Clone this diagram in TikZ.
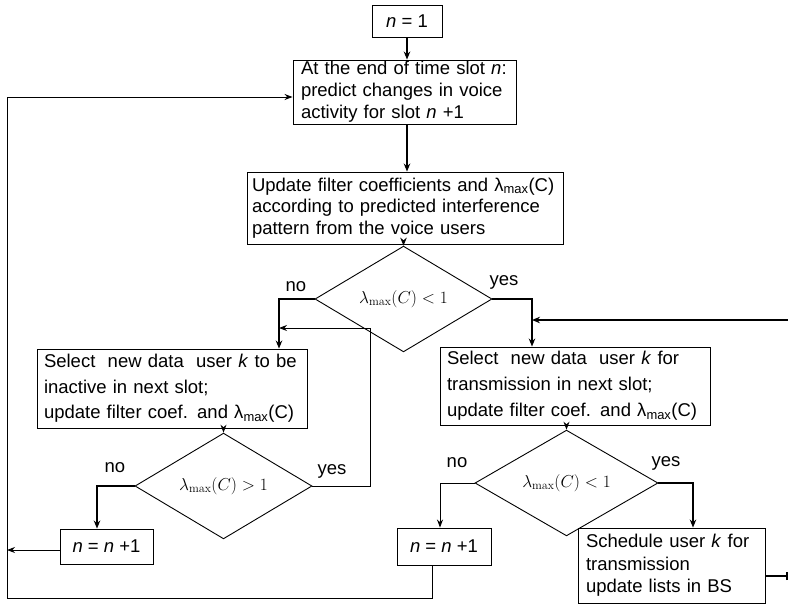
\documentclass[tikz,border=0pt]{standalone}
\usepackage[no-math]{fontspec}
\setmainfont{Liberation Sans}
\usetikzlibrary{arrows.meta,shapes.geometric}
\begin{document}
\begin{tikzpicture}[x=1pt,y=-1pt,
  every node/.style={font=\fontsize{18.5}{22}\selectfont},
  box/.style={draw,line width=0.9pt,inner ysep=0pt,align=left},
  cbox/.style={draw,line width=0.9pt,inner sep=0pt,align=center},
  dia/.style={draw,diamond,line width=0.9pt,inner sep=0pt},
  lbl/.style={inner sep=0pt},
  thinarr/.style={line width=0.9pt,-{Stealth[length=8pt,width=6pt]}},
  thickarr/.style={line width=1.8pt,-{Stealth[length=8pt,width=6.5pt]}},
  thinln/.style={line width=0.9pt},
  thickln/.style={line width=1.8pt}]
\useasboundingbox (0,0) rectangle (788,606);
\node[cbox,minimum width=70pt,minimum height=32pt] (n1) at (407,21) {\textit{n} = 1};
\node[box,minimum height=64pt,text width=207pt,inner xsep=8pt] (b2) at (404.5,92)
  {At the end of time slot \textit{n}:\\predict changes in voice\\activity for slot \textit{n} +1};
\node[box,minimum height=72pt,text width=306pt,inner xsep=5pt,font=\fontsize{18.5}{21.5}\selectfont] (b3) at (405,208)
  {Update filter coefficients and λ\textsubscript{max}(C)\\according to predicted interference\\pattern from the voice users};
\node[dia,minimum width=177pt,minimum height=64pt] (d1) at (403.5,299) {$\lambda_{\max}(C)<1$};
\node[box,minimum height=79pt,text width=256pt,inner xsep=7pt,font=\fontsize{18.5}{25.5}\selectfont] (b4) at (172,388.5)
  {Select\ \ new data\ \ user \textit{k} to be\\inactive in next slot;\\update filter coef. and λ\textsubscript{max}(C)};
\node[box,minimum height=78pt,text width=256pt,inner xsep=7pt,font=\fontsize{18.5}{26}\selectfont] (b7) at (575,386)
  {Select\ \ new data\ \ user \textit{k} for\\transmission in next slot;\\update filter coef. and λ\textsubscript{max}(C)};
\node[dia,minimum width=177pt,minimum height=56pt] (d2) at (223.5,486) {$\lambda_{\max}(C)>1$};
\node[dia,minimum width=183pt,minimum height=58pt] (d3) at (566.5,483) {$\lambda_{\max}(C)<1$};
\node[cbox,minimum width=93pt,minimum height=35pt] (b5) at (106.5,546.5) {\textit{n} = \textit{n} +1};
\node[cbox,minimum width=94pt,minimum height=37pt] (b6) at (444,546.5) {\textit{n} = \textit{n} +1};
\node[box,minimum height=75pt,text width=171pt,inner xsep=8pt,font=\fontsize{18.5}{22.5}\selectfont] (b8) at (671.5,565.5)
  {Schedule user \textit{k} for\\transmission\\update lists in BS};
% labels
\node[lbl] (l1) at (296,287) {no};
\node[lbl] (l2) at (504,282) {yes};
\node[lbl] (l3) at (115,468) {no};
\node[lbl] (l4) at (332,471) {yes};
\node[lbl] (l5) at (457,463) {no};
\node[lbl] (l6) at (666,463) {yes};
% coordinates
\coordinate (c1) at (279,299);
\coordinate (c2) at (532,299);
\coordinate (c3) at (370,486);
\coordinate (c4) at (370,328);
\coordinate (c5) at (279,328);
\coordinate (c6) at (97,486);
\coordinate (c7) at (7,550);
\coordinate (c8) at (440,483);
\coordinate (c9) at (693,483);
\coordinate (c10) at (432,598);
\coordinate (c11) at (7,598);
\coordinate (c12) at (7,97);
\coordinate (c13) at (787,576);
\coordinate (c14) at (788,320);
\coordinate (c15) at (532,320);
% connectors
\draw[thickarr] (n1.south) -- (b2.north -| n1.south);
\draw[thickarr] (b2.south -| 407,0) -- (b3.north -| 407,0);
\draw[thickarr] (b3.south -| d1.north) -- (d1.north);
\draw[thickarr] (d1.west) -- (c1) -- (b4.north -| c1);
\draw[thickarr] (d1.east) -- (c2) -- (b7.north -| c2);
\draw[thinarr] (b4.south -| d2.north) -- (d2.north);
\draw[thinln] (d2.east) -- (c3) -- (c4);
\draw[thinarr] (c4) -- (c5);
\draw[thickarr] (d2.west) -- (c6) -- (b5.north -| c6);
\draw[thinarr] (b5.west |- c7) -- (c7);
\draw[thinarr] (b7.south -| d3.north) -- (d3.north);
\draw[thinarr] (d3.west) -- (c8) -- (b6.north -| c8);
\draw[thickarr] (d3.east) -- (c9) -- (b8.north -| c9);
\draw[thinarr] (b6.south -| c10) -- (c10) -- (c11) -- (c12) -- (b2.west |- c12);
\draw[thickln] (b8.east |- c13) -- (c13);
\draw[thickln] ([yshift=-4pt]c13) -- ([yshift=4pt]c13);
\draw[thickarr] (c14) -- (c15);
\end{tikzpicture}
\end{document}
